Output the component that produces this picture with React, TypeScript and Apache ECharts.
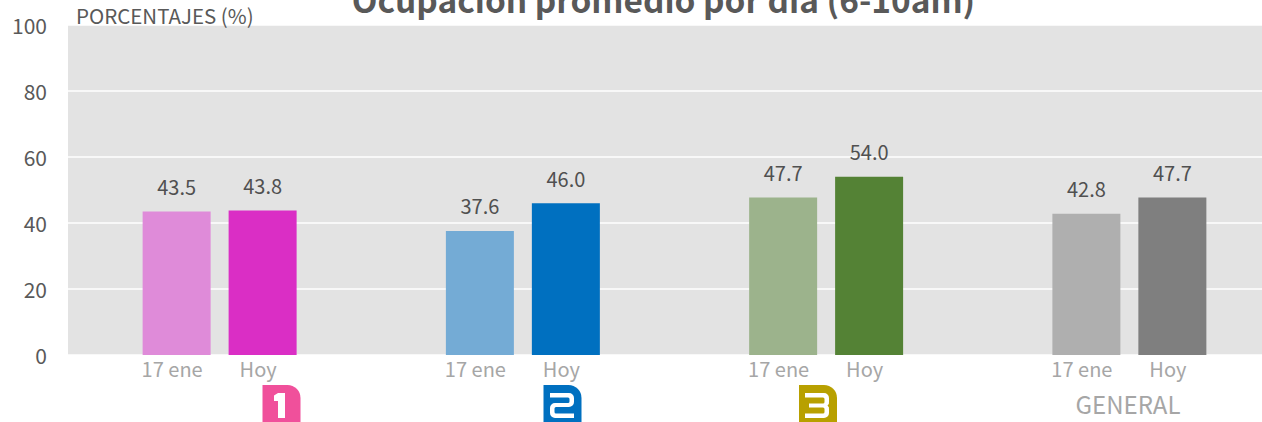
import React, { useEffect, useRef } from "react";
import * as echarts from "echarts";

const groups = ["1", "2", "3", "GENERAL"];
const periods = ["17 ene", "Hoy"];
const previousValues = [43.5, 37.6, 47.7, 42.8];
const todayValues = [43.8, 46.0, 54.0, 47.7];
const previousColors = ["#DF8BD9", "#74ABD5", "#9CB38C", "#AFAFAF"];
const todayColors = ["#DA2EC5", "#0070C0", "#548235", "#7F7F7F"];
const yTicks = [0, 20, 40, 60, 80, 100];

const FONT = '"Noto Sans CJK JP", "Noto Sans", sans-serif';
const OFFSET = 43 / 303.33;

const badgePath = "M0 0H25A13 13 0 0 1 38 13V40H0Z";
const digit1 = "M0 2.5L4 0H11V25H4V8H0Z";
const digit2 = "M0 0H19A5 5 0 0 1 24 5V9A5 5 0 0 1 19 14H6A1.5 1.5 0 0 0 4.5 15.5V19A1.5 1.5 0 0 0 6 20.5H24V25H5A5 5 0 0 1 0 20V15A5 5 0 0 1 5 10H18A1.5 1.5 0 0 0 19.5 8.5V6A1.5 1.5 0 0 0 18 4.5H0Z";
const digit3 = "M0 0H19A5 5 0 0 1 24 5V8.500A4 4 0 0 1 22.500 12.500A4 4 0 0 1 24 16.500V20A5 5 0 0 1 19 25H0V20.500H18A1.500 1.500 0 0 0 19.500 19V16A1.500 1.500 0 0 0 18 14.500H4V10.500H18A1.500 1.500 0 0 0 19.500 9V6A1.500 1.500 0 0 0 18 4.500H0Z";

echarts.graphic.registerShape("badge", echarts.graphic.extendPath(badgePath, {}) as any);
echarts.graphic.registerShape("digit1", echarts.graphic.extendPath(digit1, {}) as any);
echarts.graphic.registerShape("digit2", echarts.graphic.extendPath(digit2, {}) as any);
echarts.graphic.registerShape("digit3", echarts.graphic.extendPath(digit3, {}) as any);

const xPrev = (i: number) => i + 0.5 - OFFSET;
const xToday = (i: number) => i + 0.5 + OFFSET;
const tickPositions = groups.flatMap((_, i) => [xPrev(i), xToday(i)]);

const barSeries = (name: string, values: number[], colors: string[], xOf: (i: number) => number) => ({
  name,
  type: "bar",
  barWidth: 68,
  barGap: "-100%",
  data: values.map((v, i) => ({ value: [xOf(i), v], itemStyle: { color: colors[i] } })),
  label: {
    show: true,
    position: "top",
    distance: 15,
    fontFamily: FONT,
    fontSize: 20,
    color: "#505050",
    formatter: (p: any) => p.value[1].toFixed(1),
  },
});

const badge = (shape: string, left: number, color: string, digitLeft: number) => ({
  type: "group",
  x: left,
  y: 385,
  silent: true,
  children: [
    { type: "badge", x: 0, y: 0, style: { fill: color } },
    { type: shape, x: digitLeft, y: 8, style: { fill: "#fff" } },
  ],
});

export default function App() {
  const ref = useRef<HTMLDivElement>(null);
  useEffect(() => {
    document.body.style.margin = "0";
    const chart = echarts.init(ref.current!, undefined, { renderer: "svg" });
    chart.setOption({
      animation: false,
      backgroundColor: "#fff",
      title: {
        text: "Ocupación promedio por día (6-10am)",
        left: 658.5,
        top: -23,
        textAlign: "center",
        textStyle: { fontFamily: FONT, fontSize: 33.4, fontWeight: "bold", color: "#595959" },
      },
      grid: {
        left: 68,
        top: 25,
        width: 1213,
        height: 330,
        outerBoundsMode: "none",
        backgroundColor: "#E3E3E3",
        show: true,
        borderWidth: 0,
      },
      xAxis: {
        type: "value",
        min: 0,
        max: groups.length,
        axisLine: { show: false },
        axisTick: { show: false },
        splitLine: { show: false },
        axisLabel: {
          customValues: tickPositions,
          formatter: (v: number) => periods[tickPositions.findIndex((t) => Math.abs(t - v) < 1e-6) % 2],
          fontFamily: FONT,
          fontSize: 20,
          color: "#A6A6A6",
          margin: 3,
          padding: [0, 9, 0, 0],
        },
      },
      yAxis: {
        type: "value",
        min: yTicks[0],
        max: yTicks[yTicks.length - 1],
        interval: 20,
        name: "PORCENTAJES (%)",
        nameLocation: "end",
        nameGap: 0,
        nameTextStyle: { fontFamily: FONT, fontSize: 20.5, color: "#595959", align: "left", verticalAlign: "bottom", padding: [0, 0, 0, 8] },
        axisLine: { show: false },
        axisTick: { show: false },
        axisLabel: { fontFamily: FONT, fontSize: 21, color: "#595959", margin: 21, padding: [0, 0, 3, 0] },
        splitLine: { lineStyle: { color: "#fff", width: 1.5 } },
      },
      series: [
        barSeries(periods[0], previousValues, previousColors, xPrev),
        barSeries(periods[1], todayValues, todayColors, xToday),
      ],
      graphic: [
        badge("digit1", 262.5, "#F0509B", 11.5),
        badge("digit2", 543.5, "#0070C0", 6.5),
        badge("digit3", 799, "#B8A000", 6),
        {
          type: "text",
          x: 1128,
          y: 403,
          silent: true,
          style: {
            text: groups[3],
            fontFamily: FONT,
            fontSize: 24,
            fill: "#A6A6A6",
            align: "center",
            verticalAlign: "middle",
          },
        },
      ],
    });
    return () => chart.dispose();
  }, []);
  return <div ref={ref} style={{ width: 1262, height: 422 }} />;
}
